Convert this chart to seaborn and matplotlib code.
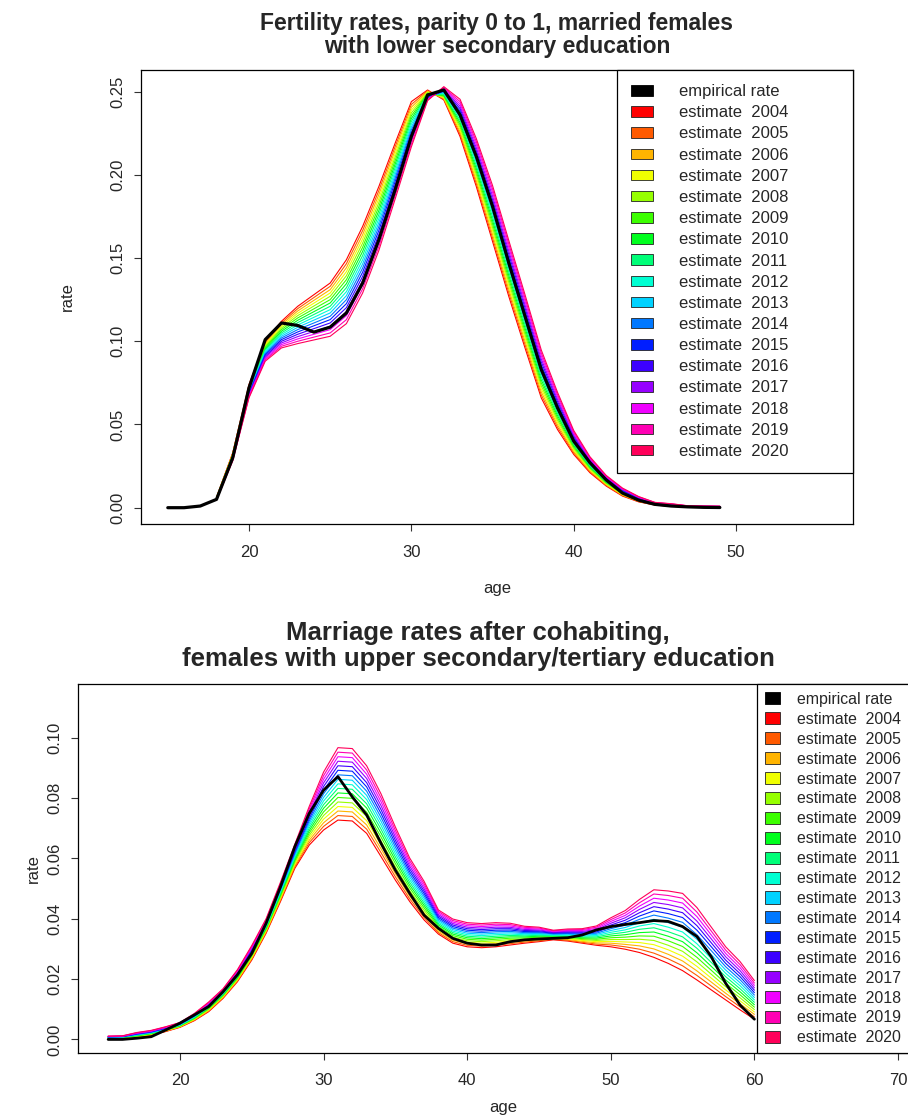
import colorsys
import numpy as np
import pandas as pd
import matplotlib
matplotlib.use("Agg")
import matplotlib.pyplot as plt
import seaborn as sns
from matplotlib.patches import Patch

# ---------------- data: fertility (top panel) ----------------
fert_emp_ages = list(range(15, 50))
fert_empirical = [0.0000, 0.0000, 0.0010, 0.0050, 0.0300, 0.0720, 0.1010, 0.1110, 0.1095, 0.1055,
                  0.1085, 0.1170, 0.1350, 0.1610, 0.1910, 0.2230, 0.2480, 0.2510, 0.2360, 0.2110,
                  0.1810, 0.1470, 0.1150, 0.0830, 0.0600, 0.0400, 0.0270, 0.0167, 0.0088, 0.0045,
                  0.0020, 0.0010, 0.0005, 0.0002, 0.0001]
fert_est_ages = list(range(18, 50))
fert_2004 = [0.0062, 0.0330, 0.0740, 0.1000, 0.1120, 0.1210, 0.1280, 0.1350, 0.1490, 0.1690, 0.1930, 0.2190, 0.2440, 0.2510, 0.2450, 0.2230, 0.1930, 0.1600, 0.1270, 0.0960, 0.0660, 0.0470, 0.0320, 0.0210, 0.0130, 0.0070, 0.0035, 0.0016, 0.0008, 0.0004, 0.0002, 0.0001]
fert_2005 = [0.0061, 0.0327, 0.0735, 0.0993, 0.1110, 0.1196, 0.1263, 0.1330, 0.1466, 0.1665, 0.1906, 0.2169, 0.2423, 0.2506, 0.2455, 0.2244, 0.1948, 0.1621, 0.1291, 0.0980, 0.0678, 0.0484, 0.0329, 0.0216, 0.0134, 0.0073, 0.0037, 0.0017, 0.0009, 0.00045, 0.00025, 0.00015]
fert_2006 = [0.0060, 0.0324, 0.0730, 0.0985, 0.1100, 0.1182, 0.1246, 0.1310, 0.1442, 0.1640, 0.1882, 0.2148, 0.2406, 0.2502, 0.2460, 0.2258, 0.1966, 0.1642, 0.1312, 0.1000, 0.0696, 0.0498, 0.0338, 0.0222, 0.0138, 0.0076, 0.0039, 0.0018, 0.0010, 0.0005, 0.0003, 0.0002]
fert_2007 = [0.0059, 0.0321, 0.0725, 0.0978, 0.1090, 0.1168, 0.1229, 0.1290, 0.1418, 0.1615, 0.1858, 0.2127, 0.2389, 0.2498, 0.2465, 0.2272, 0.1984, 0.1663, 0.1333, 0.1020, 0.0714, 0.0512, 0.0347, 0.0228, 0.0142, 0.0079, 0.0041, 0.0019, 0.0011, 0.00055, 0.00035, 0.00025]
fert_2008 = [0.0058, 0.0318, 0.0720, 0.0970, 0.1080, 0.1154, 0.1212, 0.1270, 0.1394, 0.1590, 0.1834, 0.2106, 0.2372, 0.2494, 0.2470, 0.2286, 0.2002, 0.1684, 0.1354, 0.1040, 0.0732, 0.0526, 0.0356, 0.0234, 0.0146, 0.0082, 0.0043, 0.0020, 0.0012, 0.0006, 0.0004, 0.0003]
fert_2009 = [0.0057, 0.0315, 0.0715, 0.0963, 0.1070, 0.1140, 0.1195, 0.1250, 0.1370, 0.1565, 0.1810, 0.2085, 0.2355, 0.2490, 0.2475, 0.2300, 0.2020, 0.1705, 0.1375, 0.1060, 0.0750, 0.0540, 0.0365, 0.0240, 0.0150, 0.0085, 0.0045, 0.0021, 0.0013, 0.00065, 0.00045, 0.00035]
fert_2010 = [0.0056, 0.0312, 0.0710, 0.0955, 0.1060, 0.1126, 0.1178, 0.1230, 0.1346, 0.1540, 0.1786, 0.2064, 0.2338, 0.2486, 0.2480, 0.2314, 0.2038, 0.1726, 0.1396, 0.1080, 0.0768, 0.0554, 0.0374, 0.0246, 0.0154, 0.0088, 0.0047, 0.0022, 0.0014, 0.0007, 0.0005, 0.0004]
fert_2011 = [0.0055, 0.0309, 0.0705, 0.0948, 0.1050, 0.1112, 0.1161, 0.1210, 0.1322, 0.1515, 0.1762, 0.2043, 0.2321, 0.2482, 0.2485, 0.2328, 0.2056, 0.1747, 0.1417, 0.1100, 0.0786, 0.0568, 0.0383, 0.0252, 0.0158, 0.0091, 0.0049, 0.0023, 0.0015, 0.00075, 0.00055, 0.00045]
fert_2012 = [0.0054, 0.0306, 0.0700, 0.0940, 0.1040, 0.1098, 0.1144, 0.1190, 0.1298, 0.1490, 0.1738, 0.2022, 0.2304, 0.2478, 0.2490, 0.2342, 0.2074, 0.1768, 0.1438, 0.1120, 0.0804, 0.0582, 0.0392, 0.0258, 0.0162, 0.0094, 0.0051, 0.0024, 0.0016, 0.0008, 0.0006, 0.0005]
fert_2013 = [0.0053, 0.0303, 0.0695, 0.0933, 0.1030, 0.1084, 0.1127, 0.1170, 0.1274, 0.1465, 0.1714, 0.2001, 0.2287, 0.2474, 0.2495, 0.2356, 0.2092, 0.1789, 0.1459, 0.1140, 0.0822, 0.0596, 0.0401, 0.0264, 0.0166, 0.0097, 0.0053, 0.0025, 0.0017, 0.00085, 0.00065, 0.00055]
fert_2014 = [0.0052, 0.0300, 0.0690, 0.0925, 0.1020, 0.1070, 0.1110, 0.1150, 0.1250, 0.1440, 0.1690, 0.1980, 0.2270, 0.2470, 0.2500, 0.2370, 0.2110, 0.1810, 0.1480, 0.1160, 0.0840, 0.0610, 0.0410, 0.0270, 0.0170, 0.0100, 0.0055, 0.0026, 0.0018, 0.0009, 0.0007, 0.0006]
fert_2015 = [0.0051, 0.0297, 0.0685, 0.0918, 0.1010, 0.1056, 0.1093, 0.1130, 0.1226, 0.1415, 0.1666, 0.1959, 0.2253, 0.2466, 0.2505, 0.2384, 0.2128, 0.1831, 0.1501, 0.1180, 0.0858, 0.0624, 0.0419, 0.0276, 0.0174, 0.0103, 0.0057, 0.0027, 0.0019, 0.00095, 0.00075, 0.00065]
fert_2016 = [0.0050, 0.0294, 0.0680, 0.0910, 0.1000, 0.1042, 0.1076, 0.1110, 0.1202, 0.1390, 0.1642, 0.1938, 0.2236, 0.2462, 0.2510, 0.2398, 0.2146, 0.1852, 0.1522, 0.1200, 0.0876, 0.0638, 0.0428, 0.0282, 0.0178, 0.0106, 0.0059, 0.0028, 0.0020, 0.0010, 0.0008, 0.0007]
fert_2017 = [0.0049, 0.0291, 0.0675, 0.0903, 0.0990, 0.1028, 0.1059, 0.1090, 0.1178, 0.1365, 0.1618, 0.1917, 0.2219, 0.2458, 0.2515, 0.2412, 0.2164, 0.1873, 0.1543, 0.1220, 0.0894, 0.0652, 0.0437, 0.0288, 0.0182, 0.0109, 0.0061, 0.0029, 0.0021, 0.00105, 0.00085, 0.00075]
fert_2018 = [0.0048, 0.0288, 0.0670, 0.0895, 0.0980, 0.1014, 0.1042, 0.1070, 0.1154, 0.1340, 0.1594, 0.1896, 0.2202, 0.2454, 0.2520, 0.2426, 0.2182, 0.1894, 0.1564, 0.1240, 0.0912, 0.0666, 0.0446, 0.0294, 0.0186, 0.0112, 0.0063, 0.0030, 0.0022, 0.0011, 0.0009, 0.0008]
fert_2019 = [0.0047, 0.0285, 0.0665, 0.0888, 0.0970, 0.1000, 0.1025, 0.1050, 0.1130, 0.1315, 0.1570, 0.1875, 0.2185, 0.2450, 0.2525, 0.2440, 0.2200, 0.1915, 0.1585, 0.1260, 0.0930, 0.0680, 0.0455, 0.0300, 0.0190, 0.0115, 0.0065, 0.0031, 0.0023, 0.00115, 0.00095, 0.00085]
fert_2020 = [0.0046, 0.0282, 0.0660, 0.0880, 0.0960, 0.0986, 0.1008, 0.1030, 0.1106, 0.1290, 0.1546, 0.1854, 0.2168, 0.2446, 0.2530, 0.2454, 0.2218, 0.1936, 0.1606, 0.1280, 0.0948, 0.0694, 0.0464, 0.0306, 0.0194, 0.0118, 0.0067, 0.0032, 0.0024, 0.0012, 0.0010, 0.0009]

# ---------------- data: marriage (bottom panel) ----------------
marr_ages = list(range(15, 61))
marr_empirical = [0.0000, 0.0000, 0.0004, 0.0009, 0.0031, 0.0054, 0.0081, 0.0109, 0.0158, 0.0214,
                  0.0285, 0.0385, 0.0506, 0.0639, 0.0749, 0.0826, 0.0871, 0.0804, 0.0744, 0.0650,
                  0.0561, 0.0484, 0.0412, 0.0368, 0.0335, 0.0319, 0.0313, 0.0313, 0.0324, 0.0330,
                  0.0333, 0.0335, 0.0337, 0.0346, 0.0363, 0.0374, 0.0381, 0.0387, 0.0394, 0.0391,
                  0.0374, 0.0341, 0.0274, 0.0186, 0.0114, 0.0067]
marr_2004 = [0.0003, 0.0004, 0.0007, 0.0014, 0.0026, 0.0040, 0.0062, 0.0092, 0.0136, 0.0191, 0.0263, 0.0352, 0.0457, 0.0567, 0.0644, 0.0694, 0.0727, 0.0724, 0.0683, 0.0606, 0.0528, 0.0457, 0.0396, 0.0349, 0.0319, 0.0307, 0.0304, 0.0307, 0.0313, 0.0319, 0.0324, 0.0330, 0.0326, 0.0319, 0.0312, 0.0307, 0.0299, 0.0288, 0.0272, 0.0252, 0.0228, 0.0197, 0.0164, 0.0131, 0.0098, 0.0067]
marr_2005 = [0.00035, 0.00045, 0.0008, 0.0015, 0.0027, 0.0041, 0.00635, 0.0094, 0.0138, 0.01935, 0.0266, 0.0355, 0.0461, 0.0572, 0.0652, 0.0706, 0.0742, 0.0739, 0.0697, 0.0619, 0.0539, 0.0466, 0.0404, 0.0354, 0.0324, 0.0312, 0.0309, 0.0312, 0.03175, 0.03225, 0.0327, 0.0332, 0.03285, 0.0322, 0.0316, 0.0313, 0.0307, 0.0299, 0.0286, 0.0267, 0.0244, 0.0212, 0.0177, 0.0142, 0.0108, 0.0075]
marr_2006 = [0.0004, 0.0005, 0.0009, 0.0016, 0.0028, 0.0042, 0.0065, 0.0096, 0.0140, 0.0196, 0.0269, 0.0358, 0.0465, 0.0577, 0.0660, 0.0718, 0.0757, 0.0754, 0.0711, 0.0632, 0.0550, 0.0475, 0.0412, 0.0359, 0.0329, 0.0317, 0.0314, 0.0317, 0.0322, 0.0326, 0.0330, 0.0334, 0.0331, 0.0325, 0.0320, 0.0319, 0.0315, 0.0310, 0.0300, 0.0282, 0.0260, 0.0227, 0.0190, 0.0153, 0.0118, 0.0083]
marr_2007 = [0.00045, 0.00055, 0.0010, 0.0017, 0.0029, 0.0043, 0.00665, 0.0098, 0.0142, 0.01985, 0.0272, 0.0361, 0.0469, 0.0582, 0.0668, 0.0730, 0.0772, 0.0769, 0.0725, 0.0645, 0.0561, 0.0484, 0.0420, 0.0364, 0.0334, 0.0322, 0.0319, 0.0322, 0.03265, 0.03295, 0.0333, 0.0336, 0.03335, 0.0328, 0.0324, 0.0325, 0.0323, 0.0321, 0.0314, 0.0297, 0.0276, 0.0242, 0.0203, 0.0164, 0.0128, 0.0091]
marr_2008 = [0.0005, 0.0006, 0.0011, 0.0018, 0.0030, 0.0044, 0.0068, 0.0100, 0.0144, 0.0201, 0.0275, 0.0364, 0.0473, 0.0587, 0.0676, 0.0742, 0.0787, 0.0784, 0.0739, 0.0658, 0.0572, 0.0493, 0.0428, 0.0369, 0.0339, 0.0327, 0.0324, 0.0327, 0.0331, 0.0333, 0.0336, 0.0338, 0.0336, 0.0331, 0.0328, 0.0331, 0.0331, 0.0332, 0.0328, 0.0312, 0.0292, 0.0257, 0.0216, 0.0175, 0.0138, 0.0099]
marr_2009 = [0.00055, 0.00065, 0.0012, 0.0019, 0.0031, 0.0045, 0.00695, 0.0102, 0.0146, 0.02035, 0.0278, 0.0367, 0.0477, 0.0592, 0.0684, 0.0754, 0.0802, 0.0799, 0.0753, 0.0671, 0.0583, 0.0502, 0.0436, 0.0374, 0.0344, 0.0332, 0.0329, 0.0332, 0.03355, 0.03365, 0.0339, 0.0340, 0.03385, 0.0334, 0.0332, 0.0337, 0.0339, 0.0343, 0.0342, 0.0327, 0.0308, 0.0272, 0.0229, 0.0186, 0.0148, 0.0107]
marr_2010 = [0.0006, 0.0007, 0.0013, 0.0020, 0.0032, 0.0046, 0.0071, 0.0104, 0.0148, 0.0206, 0.0281, 0.0370, 0.0481, 0.0597, 0.0692, 0.0766, 0.0817, 0.0814, 0.0767, 0.0684, 0.0594, 0.0511, 0.0444, 0.0379, 0.0349, 0.0337, 0.0334, 0.0337, 0.0340, 0.0340, 0.0342, 0.0342, 0.0341, 0.0337, 0.0336, 0.0343, 0.0347, 0.0354, 0.0356, 0.0342, 0.0324, 0.0287, 0.0242, 0.0197, 0.0158, 0.0115]
marr_2011 = [0.00065, 0.00075, 0.0014, 0.0021, 0.0033, 0.0047, 0.00725, 0.0106, 0.0150, 0.02085, 0.0284, 0.0373, 0.0485, 0.0602, 0.0700, 0.0778, 0.0832, 0.0829, 0.0781, 0.0697, 0.0605, 0.0520, 0.0452, 0.0384, 0.0354, 0.0342, 0.0339, 0.0342, 0.03445, 0.03435, 0.0345, 0.0344, 0.03435, 0.0340, 0.0340, 0.0349, 0.0355, 0.0365, 0.0370, 0.0357, 0.0340, 0.0302, 0.0255, 0.0208, 0.0168, 0.0123]
marr_2012 = [0.0007, 0.0008, 0.0015, 0.0022, 0.0034, 0.0048, 0.0074, 0.0108, 0.0152, 0.0211, 0.0287, 0.0376, 0.0489, 0.0607, 0.0708, 0.0790, 0.0847, 0.0844, 0.0795, 0.0710, 0.0616, 0.0529, 0.0460, 0.0389, 0.0359, 0.0347, 0.0344, 0.0347, 0.0349, 0.0347, 0.0348, 0.0346, 0.0346, 0.0343, 0.0344, 0.0355, 0.0363, 0.0376, 0.0384, 0.0372, 0.0356, 0.0317, 0.0268, 0.0219, 0.0178, 0.0131]
marr_2013 = [0.00075, 0.00085, 0.0016, 0.0023, 0.0035, 0.0049, 0.00755, 0.0110, 0.0154, 0.02135, 0.0290, 0.0379, 0.0493, 0.0612, 0.0716, 0.0802, 0.0862, 0.0859, 0.0809, 0.0723, 0.0627, 0.0538, 0.0468, 0.0394, 0.0364, 0.0352, 0.0349, 0.0352, 0.03535, 0.03505, 0.0351, 0.0348, 0.03485, 0.0346, 0.0348, 0.0361, 0.0371, 0.0387, 0.0398, 0.0387, 0.0372, 0.0332, 0.0281, 0.0230, 0.0188, 0.0139]
marr_2014 = [0.0008, 0.0009, 0.0017, 0.0024, 0.0036, 0.0050, 0.0077, 0.0112, 0.0156, 0.0216, 0.0293, 0.0382, 0.0497, 0.0617, 0.0724, 0.0814, 0.0877, 0.0874, 0.0823, 0.0736, 0.0638, 0.0547, 0.0476, 0.0399, 0.0369, 0.0357, 0.0354, 0.0357, 0.0358, 0.0354, 0.0354, 0.0350, 0.0351, 0.0349, 0.0352, 0.0367, 0.0379, 0.0398, 0.0412, 0.0402, 0.0388, 0.0347, 0.0294, 0.0241, 0.0198, 0.0147]
marr_2015 = [0.00085, 0.00095, 0.0018, 0.0025, 0.0037, 0.0051, 0.00785, 0.0114, 0.0158, 0.02185, 0.0296, 0.0385, 0.0501, 0.0622, 0.0732, 0.0826, 0.0892, 0.0889, 0.0837, 0.0749, 0.0649, 0.0556, 0.0484, 0.0404, 0.0374, 0.0362, 0.0359, 0.0362, 0.03625, 0.03575, 0.0357, 0.0352, 0.03535, 0.0352, 0.0356, 0.0373, 0.0387, 0.0409, 0.0426, 0.0417, 0.0404, 0.0362, 0.0307, 0.0252, 0.0208, 0.0155]
marr_2016 = [0.0009, 0.0010, 0.0019, 0.0026, 0.0038, 0.0052, 0.0080, 0.0116, 0.0160, 0.0221, 0.0299, 0.0388, 0.0505, 0.0627, 0.0740, 0.0838, 0.0907, 0.0904, 0.0851, 0.0762, 0.0660, 0.0565, 0.0492, 0.0409, 0.0379, 0.0367, 0.0364, 0.0367, 0.0367, 0.0361, 0.0360, 0.0354, 0.0356, 0.0355, 0.0360, 0.0379, 0.0395, 0.0420, 0.0440, 0.0432, 0.0420, 0.0377, 0.0320, 0.0263, 0.0218, 0.0163]
marr_2017 = [0.00095, 0.00105, 0.0020, 0.0027, 0.0039, 0.0053, 0.00815, 0.0118, 0.0162, 0.02235, 0.0302, 0.0391, 0.0509, 0.0632, 0.0748, 0.0850, 0.0922, 0.0919, 0.0865, 0.0775, 0.0671, 0.0574, 0.0500, 0.0414, 0.0384, 0.0372, 0.0369, 0.0372, 0.03715, 0.03645, 0.0363, 0.0356, 0.03585, 0.0358, 0.0364, 0.0385, 0.0403, 0.0431, 0.0454, 0.0447, 0.0436, 0.0392, 0.0333, 0.0274, 0.0228, 0.0171]
marr_2018 = [0.0010, 0.0011, 0.0021, 0.0028, 0.0040, 0.0054, 0.0083, 0.0120, 0.0164, 0.0226, 0.0305, 0.0394, 0.0513, 0.0637, 0.0756, 0.0862, 0.0937, 0.0934, 0.0879, 0.0788, 0.0682, 0.0583, 0.0508, 0.0419, 0.0389, 0.0377, 0.0374, 0.0377, 0.0376, 0.0368, 0.0366, 0.0358, 0.0361, 0.0361, 0.0368, 0.0391, 0.0411, 0.0442, 0.0468, 0.0462, 0.0452, 0.0407, 0.0346, 0.0285, 0.0238, 0.0179]
marr_2019 = [0.00105, 0.00115, 0.0022, 0.0029, 0.0041, 0.0055, 0.00845, 0.0122, 0.0166, 0.02285, 0.0308, 0.0397, 0.0517, 0.0642, 0.0764, 0.0874, 0.0952, 0.0949, 0.0893, 0.0801, 0.0693, 0.0592, 0.0516, 0.0424, 0.0394, 0.0382, 0.0379, 0.0382, 0.03805, 0.03715, 0.0369, 0.0360, 0.03635, 0.0364, 0.0372, 0.0397, 0.0419, 0.0453, 0.0482, 0.0477, 0.0468, 0.0422, 0.0359, 0.0296, 0.0248, 0.0187]
marr_2020 = [0.0011, 0.0012, 0.0023, 0.0030, 0.0042, 0.0056, 0.0086, 0.0124, 0.0168, 0.0231, 0.0311, 0.0400, 0.0521, 0.0647, 0.0772, 0.0886, 0.0967, 0.0964, 0.0907, 0.0814, 0.0704, 0.0601, 0.0524, 0.0429, 0.0399, 0.0387, 0.0384, 0.0387, 0.0385, 0.0375, 0.0372, 0.0362, 0.0366, 0.0367, 0.0376, 0.0403, 0.0427, 0.0464, 0.0496, 0.0492, 0.0484, 0.0437, 0.0372, 0.0307, 0.0258, 0.0195]

years = list(range(2004, 2021))
fert_series = [fert_2004, fert_2005, fert_2006, fert_2007, fert_2008, fert_2009, fert_2010, fert_2011,
               fert_2012, fert_2013, fert_2014, fert_2015, fert_2016, fert_2017, fert_2018, fert_2019, fert_2020]
marr_series = [marr_2004, marr_2005, marr_2006, marr_2007, marr_2008, marr_2009, marr_2010, marr_2011,
               marr_2012, marr_2013, marr_2014, marr_2015, marr_2016, marr_2017, marr_2018, marr_2019, marr_2020]

legend_labels = ["empirical rate"] + [f"estimate  {y}" for y in years]

# ---------------- style ----------------
sns.set_style("white")
plt.rcParams["font.family"] = ["Liberation Sans", "DejaVu Sans"]
plt.rcParams["axes.edgecolor"] = "black"
plt.rcParams["axes.linewidth"] = 0.9

# R rainbow(17) palette
palette = {y: colorsys.hsv_to_rgb(i / len(years), 1.0, 1.0) for i, y in enumerate(years)}


def long_frame(ages, series):
    rows = []
    for y, vals in zip(years, series):
        for a, v in zip(ages, vals):
            rows.append((a, v, y))
    return pd.DataFrame(rows, columns=["age", "rate", "year"])


def draw_panel(ax, ages, series, emp_ages, emp, est_lw, emp_lw):
    df = long_frame(ages, series)
    sns.lineplot(data=df, x="age", y="rate", hue="year", palette=palette,
                 hue_order=years, linewidth=est_lw, legend=False, ax=ax,
                 estimator=None, sort=False)
    sns.lineplot(x=emp_ages, y=emp, color="black", linewidth=emp_lw, ax=ax,
                 estimator=None, sort=False)


def style_axes(ax, xticks, yticks, fs):
    ax.set_xticks(xticks)
    ax.set_xticklabels([str(t) for t in xticks])
    ax.set_yticks(yticks)
    ax.set_yticklabels([f"{t:.2f}" for t in yticks], rotation=90, va="center")
    ax.tick_params(axis="both", which="major", direction="out", length=5, width=0.8,
                   labelsize=fs, color="#333333", bottom=True, left=True)
    for s in ax.spines.values():
        s.set_visible(True)
        s.set_color("black")
        s.set_linewidth(0.9)


def legend_handles():
    hs = [Patch(facecolor="black", edgecolor="black", linewidth=0.6)]
    hs += [Patch(facecolor=palette[y], edgecolor="#222222", linewidth=0.6) for y in years]
    return hs


W, H = 908, 1120
fig = plt.figure(figsize=(W / 100, H / 100), dpi=100)

# ---------------- top panel ----------------
ax1 = fig.add_axes([141 / W, 1 - 524 / H, 712 / W, 454 / H])
draw_panel(ax1, fert_est_ages, fert_series, fert_emp_ages, fert_empirical, 0.8, 2.3)
ax1.set_xlim(13.35, 57.2)
ax1.set_ylim(-0.0098, 0.2630)
style_axes(ax1, [20, 30, 40, 50], [0.00, 0.05, 0.10, 0.15, 0.20, 0.25], 12)
ax1.tick_params(axis="x", pad=10)
ax1.tick_params(axis="y", pad=6)
ax1.set_xlabel("age", fontsize=12, labelpad=15)
ax1.set_ylabel("rate", fontsize=12, labelpad=26)
leg1 = ax1.legend(legend_handles(), legend_labels, loc="upper left",
                  bbox_to_anchor=(0.6685, 0.0, 0.3315, 1.0), mode="expand",
                  borderaxespad=0, fontsize=12, frameon=True, fancybox=False,
                  edgecolor="black", framealpha=1, handlelength=1.3, handleheight=0.6,
                  handletextpad=1.6, labelspacing=0.37, borderpad=0.85)
leg1.get_frame().set_linewidth(0.9)
fig.text((141 + 853) / 2 / W, 1 - 35 / H,
         "Fertility rates, parity 0 to 1, married females\nwith lower secondary education",
         ha="center", va="center", fontsize=16.5, fontweight="bold", linespacing=1.05)

# ---------------- bottom panel ----------------
ax2 = fig.add_axes([77.7 / W, 1 - 1053.3 / H, 851.9 / W, 369 / H])
draw_panel(ax2, marr_ages, marr_series, marr_ages, marr_empirical, 0.8, 2.0)
ax2.set_xlim(12.88, 72.2)
ax2.set_ylim(-0.0046, 0.1177)
style_axes(ax2, [20, 30, 40, 50, 60, 70], [0.00, 0.02, 0.04, 0.06, 0.08, 0.10], 12)
ax2.tick_params(axis="x", pad=9)
ax2.tick_params(axis="y", pad=6)
ax2.set_xlabel("age", fontsize=12, labelpad=9)
ax2.set_ylabel("rate", fontsize=12, labelpad=5)
leg2 = ax2.legend(legend_handles(), legend_labels, loc="upper left",
                  bbox_to_anchor=(0.7977, 0.0, 0.2023, 1.0), mode="expand",
                  borderaxespad=0, fontsize=11.4, frameon=True, fancybox=False,
                  edgecolor="black", framealpha=1, handlelength=0.95, handleheight=0.8,
                  handletextpad=1.1, labelspacing=0.31, borderpad=0.48)
leg2.get_frame().set_linewidth(0.9)
fig.text(478 / W, 1 - 646 / H,
         "Marriage rates after cohabiting,\nfemales with upper secondary/tertiary education",
         ha="center", va="center", fontsize=18.5, fontweight="bold", linespacing=1.12)

fig.savefig("out.png", dpi=100)
